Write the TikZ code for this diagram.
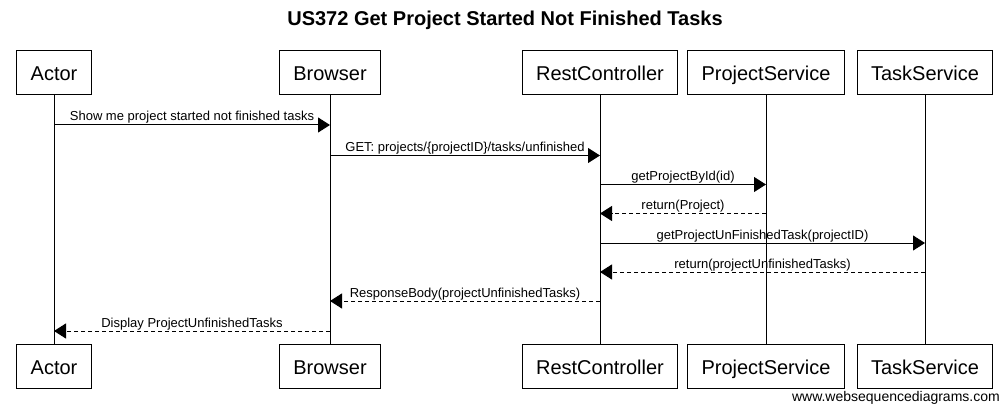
\documentclass[tikz,border=0pt]{standalone}
\usepackage{fontspec}
\setmainfont{Liberation Sans}
\usepackage{tikz}
\usetikzlibrary{arrows.meta,positioning,calc}

\tikzset{
  part/.style={draw, line width=1pt, minimum height=44pt, inner xsep=14pt,
    text height=18pt, text depth=2pt, font=\fontsize{20}{24}\selectfont},
  call/.style={line width=1pt, -{Triangle[length=12pt,width=15pt]}},
  reply/.style={call, dash pattern=on 4pt off 3pt},
  msglabel/.style={midway, anchor=base, inner sep=0pt, yshift=4pt,
    font=\fontsize{13}{15}\selectfont}
}

\begin{document}
\begin{tikzpicture}[x=1pt,y=-1pt]

\useasboundingbox (0,0) rectangle (1008,414);

\node[font=\bfseries\fontsize{20}{24}\selectfont] (title) at (505,20) {US372 Get Project Started Not Finished Tasks};

% participants, top and bottom, with their lifelines
\foreach \n/\t/\x in {actor/Actor/54, browser/Browser/330, rest/RestController/600,
    project/ProjectService/766, task/TaskService/925} {
  \node[part] (\n-top) at (\x,73) {\t};
  \node[part] (\n-bot) at (\x,366.5) {\t};
  \draw[line width=1pt] (\n-top) -- (\n-bot);
}

% messages
\draw[call] (actor-top |- 0,125) -- (browser-top |- 0,125)
  node[msglabel] (m1) {Show me project started not finished tasks};
\draw[call] (browser-top |- 0,155.5) -- (rest-top |- 0,155.5)
  node[msglabel] (m2) {GET: projects/\{projectID\}/tasks/unfinished};
\draw[call] (rest-top |- 0,184.5) -- (project-top |- 0,184.5)
  node[msglabel] (m3) {getProjectById(id)};
\draw[reply] (project-top |- 0,213.5) -- (rest-top |- 0,213.5)
  node[msglabel] (m4) {return(Project)};
\draw[call] (rest-top |- 0,243) -- (task-top |- 0,243)
  node[msglabel] (m5) {getProjectUnFinishedTask(projectID)};
\draw[reply] (task-top |- 0,272) -- (rest-top |- 0,272)
  node[msglabel] (m6) {return(projectUnfinishedTasks)};
\draw[reply] (rest-top |- 0,301) -- (browser-top |- 0,301)
  node[msglabel] (m7) {ResponseBody(projectUnfinishedTasks)};
\draw[reply] (browser-top |- 0,331) -- (actor-top |- 0,331)
  node[msglabel] (m8) {Display ProjectUnfinishedTasks};

\node[anchor=east, inner sep=0pt, font=\fontsize{14}{16}\selectfont] (footer) at (1000,398) {www.websequencediagrams.com};

\end{tikzpicture}
\end{document}
